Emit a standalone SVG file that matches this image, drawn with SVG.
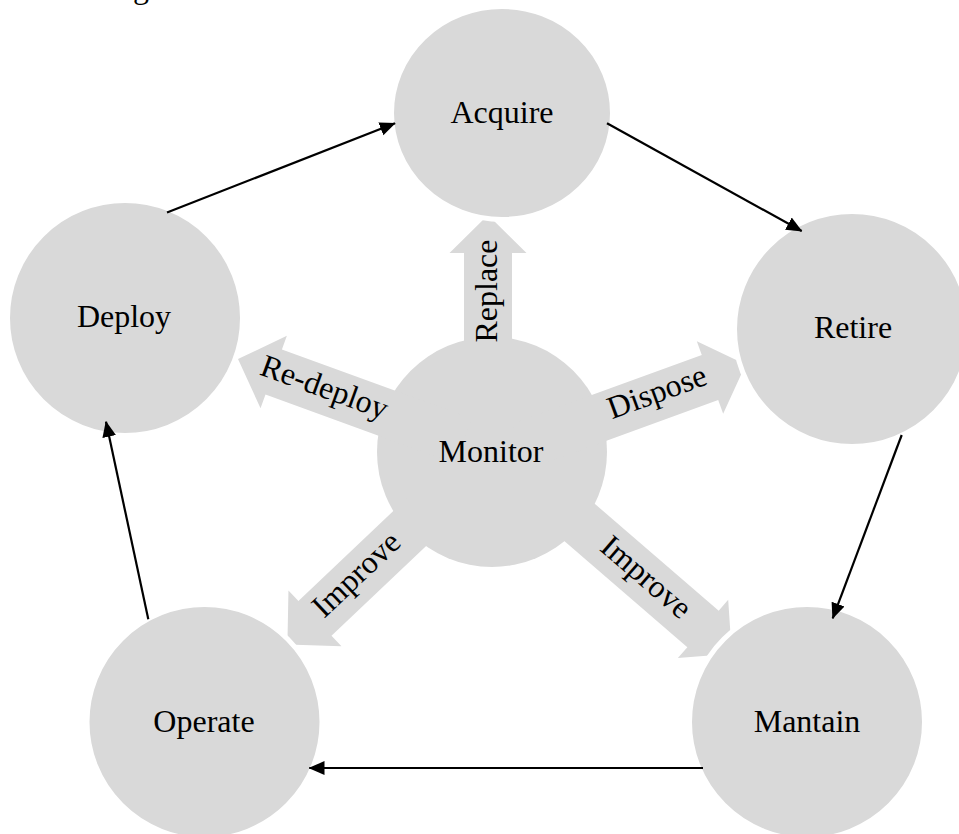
<svg xmlns="http://www.w3.org/2000/svg" width="959" height="834" viewBox="0 0 959 834">
<defs>
<style>
.node{fill:#d9d9d9;stroke:#ffffff;stroke-width:5}
.hub{fill:#d9d9d9}
.blk{fill:#d9d9d9}
.t{font-family:"Liberation Serif","Times New Roman",serif;font-size:32px;fill:#000;text-anchor:middle}
.ln{fill:none;stroke:#000;stroke-width:2.2;marker-end:url(#ah)}
</style>
<marker id="ah" viewBox="0 0 10 10" refX="9.5" refY="5" markerWidth="16" markerHeight="16" markerUnits="userSpaceOnUse" orient="auto">
<path d="M0,0.7 L10,5 L0,9.3 Z" fill="#000"/>
</marker>
<path id="blkArrow" d="M0,0 L-38,-38.5 L-38,-24 L-240,-24 L-240,24 L-38,24 L-38,38.5 Z"/>
</defs>
<rect width="959" height="834" fill="#ffffff"/>
<text class="t" x="141" y="-2">g</text>

<g id="monitor">
<circle class="hub" cx="492" cy="452" r="115"/>
</g>

<g id="block-arrows">
<use href="#blkArrow" class="blk" transform="translate(488,215) rotate(-90)"/>
<use href="#blkArrow" class="blk" transform="translate(238,359) rotate(200)"/>
<use href="#blkArrow" class="blk" transform="translate(745.7,364.5) rotate(-20)"/>
<use href="#blkArrow" class="blk" transform="translate(287.4,644.6) rotate(136.5)"/>
<use href="#blkArrow" class="blk" transform="translate(731.8,653.8) rotate(40.8)"/>
<text class="t" transform="translate(497,291) rotate(-90)">Replace</text>
<text class="t" transform="translate(321,397) rotate(20)">Re-deploy</text>
<text class="t" transform="translate(660.5,401.5) rotate(-20)">Dispose</text>
<text class="t" transform="translate(363.3,581.7) rotate(-43.5)">Improve</text>
<text class="t" transform="translate(639.5,584.8) rotate(40.8)">Improve</text>
</g>

<g id="monitor-label">
<text class="t" x="491" y="462">Monitor</text>
</g>

<g id="acquire">
<ellipse class="node" cx="502" cy="113" rx="110.5" ry="106.5"/>
<text class="t" x="502" y="123">Acquire</text>
</g>
<g id="deploy">
<circle class="node" cx="125" cy="318" r="117.5"/>
<text class="t" x="124" y="327">Deploy</text>
</g>
<g id="retire">
<circle class="node" cx="852" cy="329" r="117.5"/>
<text class="t" x="853" y="338">Retire</text>
</g>
<g id="operate">
<circle class="node" cx="204.5" cy="722" r="117.5"/>
<text class="t" x="204" y="732">Operate</text>
</g>
<g id="mantain">
<circle class="node" cx="807" cy="722" r="117.5"/>
<text class="t" x="807" y="732">Mantain</text>
</g>

<g id="connectors">
<path class="ln" d="M167,212.5 L395,123.3"/>
<path class="ln" d="M607,123.3 L801.7,231"/>
<path class="ln" d="M901.7,435 L832.7,618.3"/>
<path class="ln" d="M703,768 L309.3,768"/>
<path class="ln" d="M148.3,619.3 L106,421.7"/>
</g>
</svg>
